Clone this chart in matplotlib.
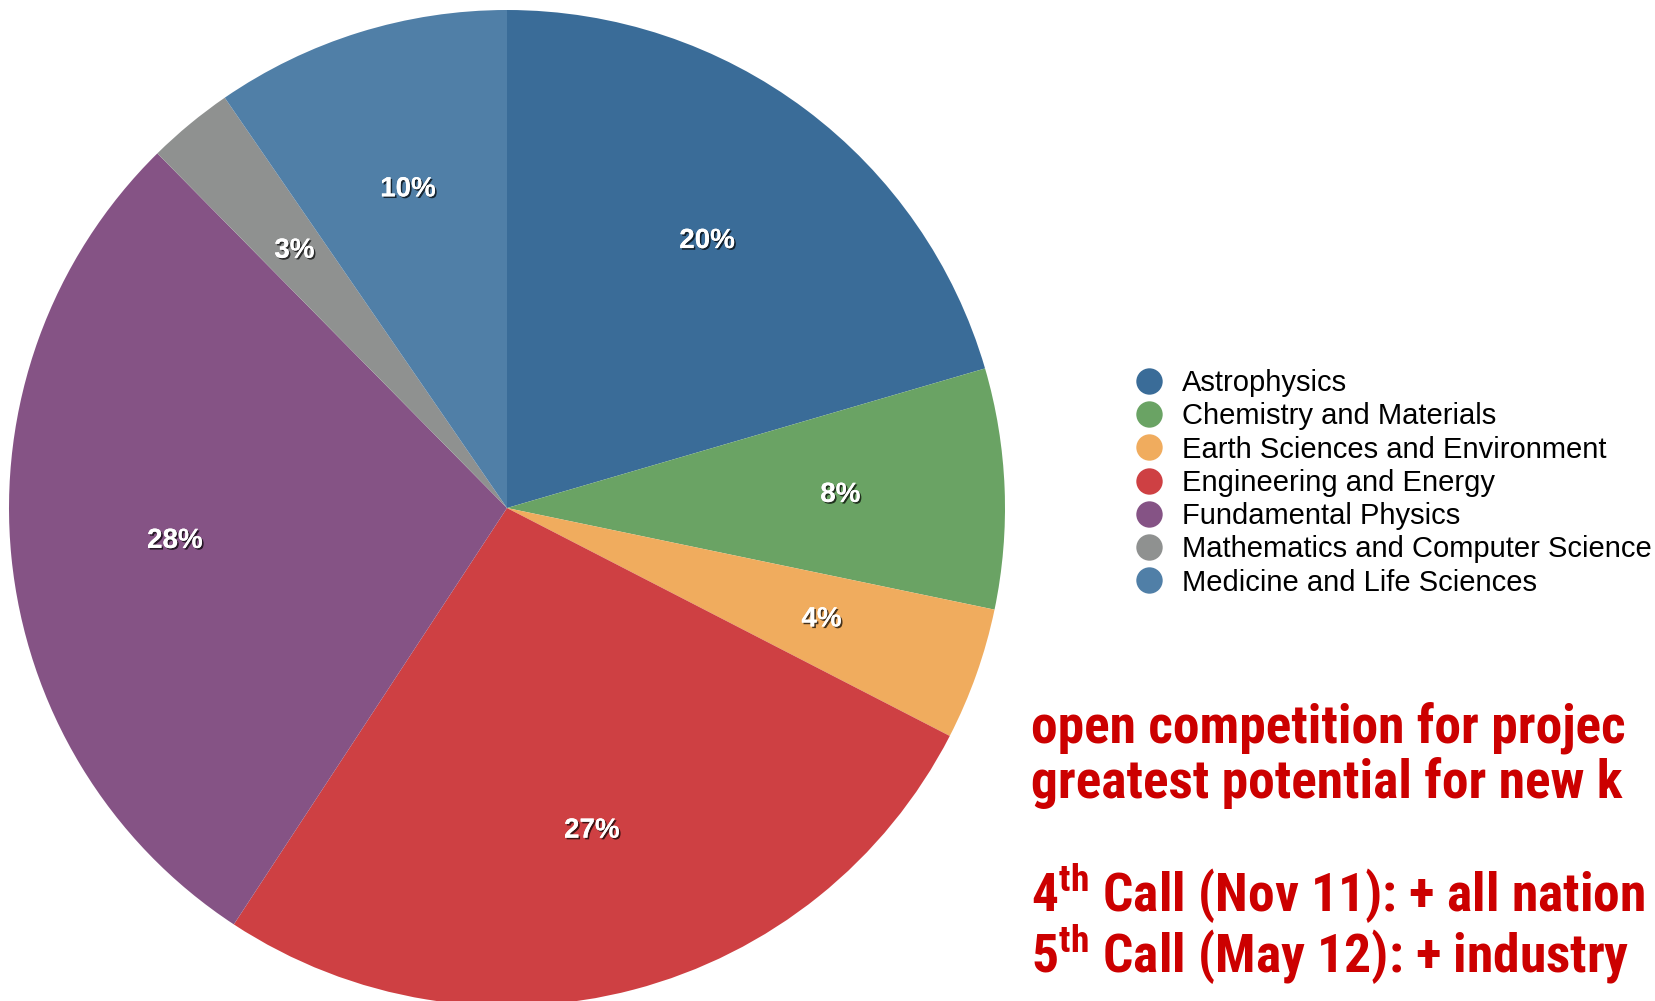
"""
Pie chart of allocation share by research field, with a legend and red call notes.
"""

import matplotlib
matplotlib.use("Agg")
import matplotlib.pyplot as plt
import matplotlib.patheffects as pe
from matplotlib import font_manager as fm
from matplotlib.lines import Line2D

# data
fields = ["Astrophysics", "Chemistry and Materials", "Earth Sciences and Environment",
          "Engineering and Energy", "Fundamental Physics",
          "Mathematics and Computer Science", "Medicine and Life Sciences"]
shares = [20.5, 7.8, 4.3, 26.7, 28.4, 2.8, 9.6]
colors = ["#3A6C98", "#6AA364", "#F0AC5E", "#CE4043", "#855385", "#8F9190", "#507FA7"]
notes = ["open competition for projec",
         "greatest potential for new k",
         "4$^{\\mathbf{th}}$ Call (Nov 11): + all nation",
         "5$^{\\mathbf{th}}$ Call (May 12): + industry"]

W, H = 1656, 1001

# pick a condensed face that really has a bold cut (Arial Narrow Bold look-alike)
bold_names = {f.name for f in fm.fontManager.ttflist if f.weight in (700, "bold")}
narrow = next((n for n in ["Liberation Sans Narrow", "Arial Narrow", "Archivo Narrow",
                           "Roboto Condensed", "PT Sans Narrow", "Pragati Narrow",
                           "Open Sans Condensed", "IBM Plex Sans Condensed"] if n in bold_names),
              "Liberation Sans")

plt.rcParams["font.family"] = ["Liberation Sans", "DejaVu Sans"]
plt.rcParams["mathtext.fontset"] = "custom"
plt.rcParams["mathtext.bf"] = f"{narrow}:bold"
plt.rcParams["mathtext.rm"] = f"{narrow}:bold"

fig = plt.figure(figsize=(W / 100, H / 100), dpi=100)

# pie axes: centre (507, 508) px, radius 498 px
cx, cy, r = 507, 508, 498
ax = fig.add_axes([(cx - r) / W, (H - cy - r) / H, 2 * r / W, 2 * r / H])
wedges, _, autotexts = ax.pie(
    shares, colors=colors, startangle=90, counterclock=False,
    autopct=lambda p: f"{p:.0f}%", pctdistance=0.67,
    wedgeprops=dict(linewidth=0),
    textprops=dict(color="white", fontsize=20, fontweight="bold"),
)
for t in autotexts:
    t.set_path_effects([pe.withSimplePatchShadow(offset=(1.2, -1.2), shadow_rgbFace="black", alpha=0.7),
                        pe.Normal()])
ax.set_xlim(-1, 1)
ax.set_ylim(-1, 1)
ax.set_aspect("equal")
ax.axis("off")

handles = [Line2D([], [], linestyle="none", marker="o", markersize=19,
                  markerfacecolor=c, markeredgewidth=0) for c in colors]
fig.legend(handles, fields, loc="upper left", bbox_to_anchor=(1134 / W, 1 - 369 / H),
           frameon=False, fontsize=21, handlelength=1.0, handletextpad=0.66,
           labelspacing=0.18, borderpad=0, borderaxespad=0)

# the notes run off the right edge in the original slide; only the visible part is kept
baselines = [742, 798, 912, 973]
for line, yb in zip(notes, baselines):
    fig.text(1031 / W, 1 - yb / H, line, color="#CC0000", fontsize=38.5,
             family=[narrow, "Liberation Sans"], fontweight="bold",
             va="baseline", ha="left")

fig.savefig("out.png", dpi=100)
